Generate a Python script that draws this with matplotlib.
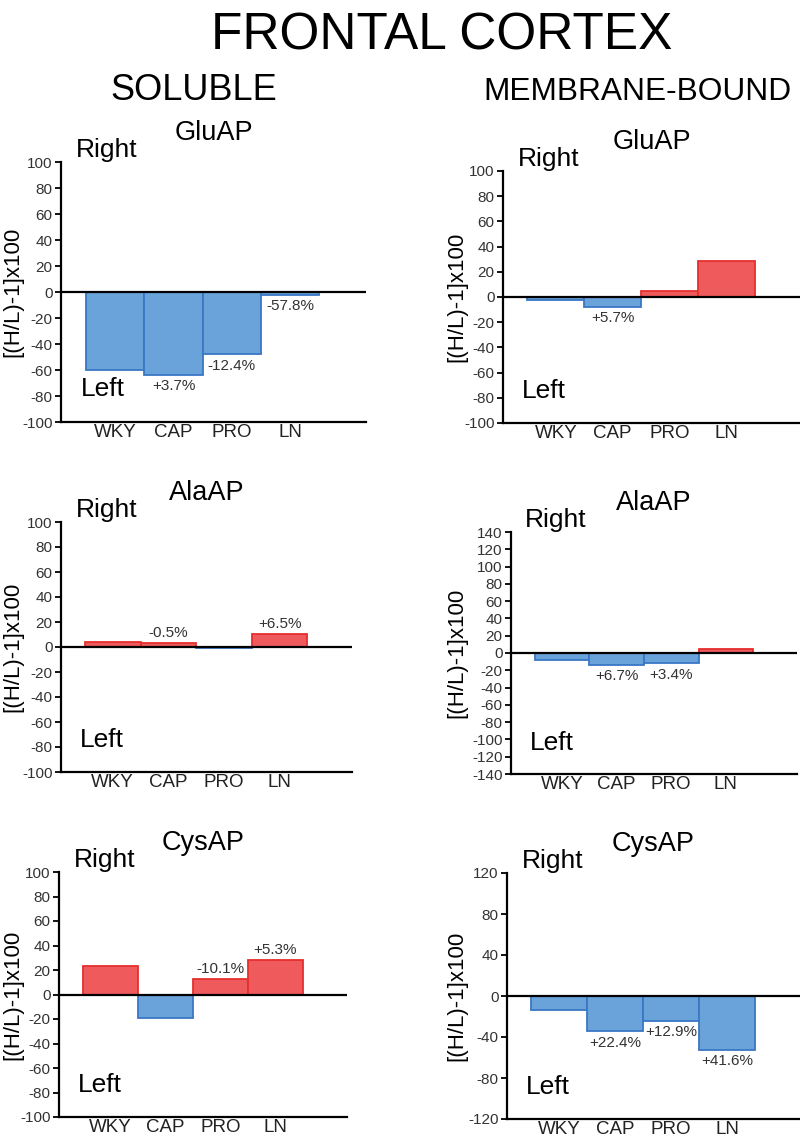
import matplotlib
matplotlib.use('Agg')
import matplotlib.pyplot as plt

plt.rcParams['font.family'] = ['Liberation Sans', 'DejaVu Sans']
plt.rcParams['axes.unicode_minus'] = False

groups = ['WKY', 'CAP', 'PRO', 'LN']

# значения [(H/L)-1]x100 по панелям
sol_glu = [-60, -64, -48, -2]
sol_ala = [4, 3, -1, 10.5]
sol_cys = [23, -19.5, 12.5, 28]
mem_glu = [-2.5, -8, 4.5, 28.5]
mem_ala = [-8, -14, -12, 4.5]
mem_cys = [-13.5, -34.5, -24, -53]

# подписи над/под столбцами (None - без подписи)
sol_glu_lbl = [None, '+3.7%', '-12.4%', '-57.8%']
sol_ala_lbl = [None, '-0.5%', None, '+6.5%']
sol_cys_lbl = [None, None, '-10.1%', '+5.3%']
mem_glu_lbl = [None, '+5.7%', None, None]
mem_ala_lbl = [None, '+6.7%', '+3.4%', None]
mem_cys_lbl = [None, '+22.4%', '+12.9%', '+41.6%']

red_fill, red_edge = '#ef5a5c', '#e52f2f'
blue_fill, blue_edge = '#6aa2da', '#3a77c4'

W, H = 800, 1140
fig = plt.figure(figsize=(W / 100, H / 100), dpi=100)

# (left, right, top, bottom) в пикселях, правый край подписи оси Y
panels = [
    ('GluAP', sol_glu, sol_glu_lbl, (61, 366, 162, 422), 100, 20, 23),
    ('GluAP', mem_glu, mem_glu_lbl, (503, 800, 171, 423), 100, 20, 467),
    ('AlaAP', sol_ala, sol_ala_lbl, (61, 352, 522, 772), 100, 20, 23),
    ('AlaAP', mem_ala, mem_ala_lbl, (511, 797, 532, 774), 140, 20, 467),
    ('CysAP', sol_cys, sol_cys_lbl, (59, 347, 872, 1117), 100, 20, 23),
    ('CysAP', mem_cys, mem_cys_lbl, (507, 800, 873, 1119), 120, 40, 467),
]

for title, vals, lbls, (l, r, t, b), lim, step, ylab_px in panels:
    ax = fig.add_axes([l / W, 1 - b / H, (r - l) / W, (b - t) / H])
    x = range(1, len(groups) + 1)
    fills = [red_fill if v > 0 else blue_fill for v in vals]
    edges = [red_edge if v > 0 else blue_edge for v in vals]
    ax.bar(x, vals, width=1.0, color=fills, edgecolor=edges, linewidth=1.3, zorder=2)
    ax.axhline(0, color='black', lw=1.6, zorder=3)
    for xi, v, s in zip(x, vals, lbls):
        if s is None:
            continue
        if v >= 0:
            ax.annotate(s, (xi, v), xytext=(0, 2), textcoords='offset points',
                        ha='center', va='bottom', fontsize=11, color='#333333')
        else:
            ax.annotate(s, (xi, v), xytext=(0, -3), textcoords='offset points',
                        ha='center', va='top', fontsize=11, color='#333333')
    ax.set_xlim(0.07, 5.3)
    ax.set_ylim(-lim, lim)
    ax.set_yticks(range(-lim, lim + 1, step))
    ax.set_xticks(list(x))
    ax.set_xticklabels(groups, fontsize=13.5, color='#222222')
    ax.tick_params(axis='x', length=0, pad=1.5)
    ax.tick_params(axis='y', labelsize=11, labelcolor='#333333', length=4, width=1.3, pad=2)
    for sp in ['top', 'right']:
        ax.spines[sp].set_visible(False)
    for sp in ['left', 'bottom']:
        ax.spines[sp].set_linewidth(1.6)
    ax.set_ylabel('[(H/L)-1]x100', fontsize=16)
    ax.yaxis.set_label_coords((ylab_px - l) / (r - l), 0.5)
    ax.set_title(title, fontsize=19.5, pad=16)
    ax.text(0.05, 1.02, 'Right', transform=ax.transAxes, fontsize=19, va='baseline')
    ax.text(0.065, 0.1, 'Left', transform=ax.transAxes, fontsize=19, va='baseline')

fig.text(442 / W, 1 - 50 / H, 'FRONTAL CORTEX', ha='center', va='baseline', fontsize=37)
fig.text(194 / W, 1 - 100 / H, 'SOLUBLE', ha='center', va='baseline', fontsize=26)
fig.text(637 / W, 1 - 100 / H, 'MEMBRANE-BOUND', ha='center', va='baseline', fontsize=22.8)

fig.savefig('out.png', dpi=100)
